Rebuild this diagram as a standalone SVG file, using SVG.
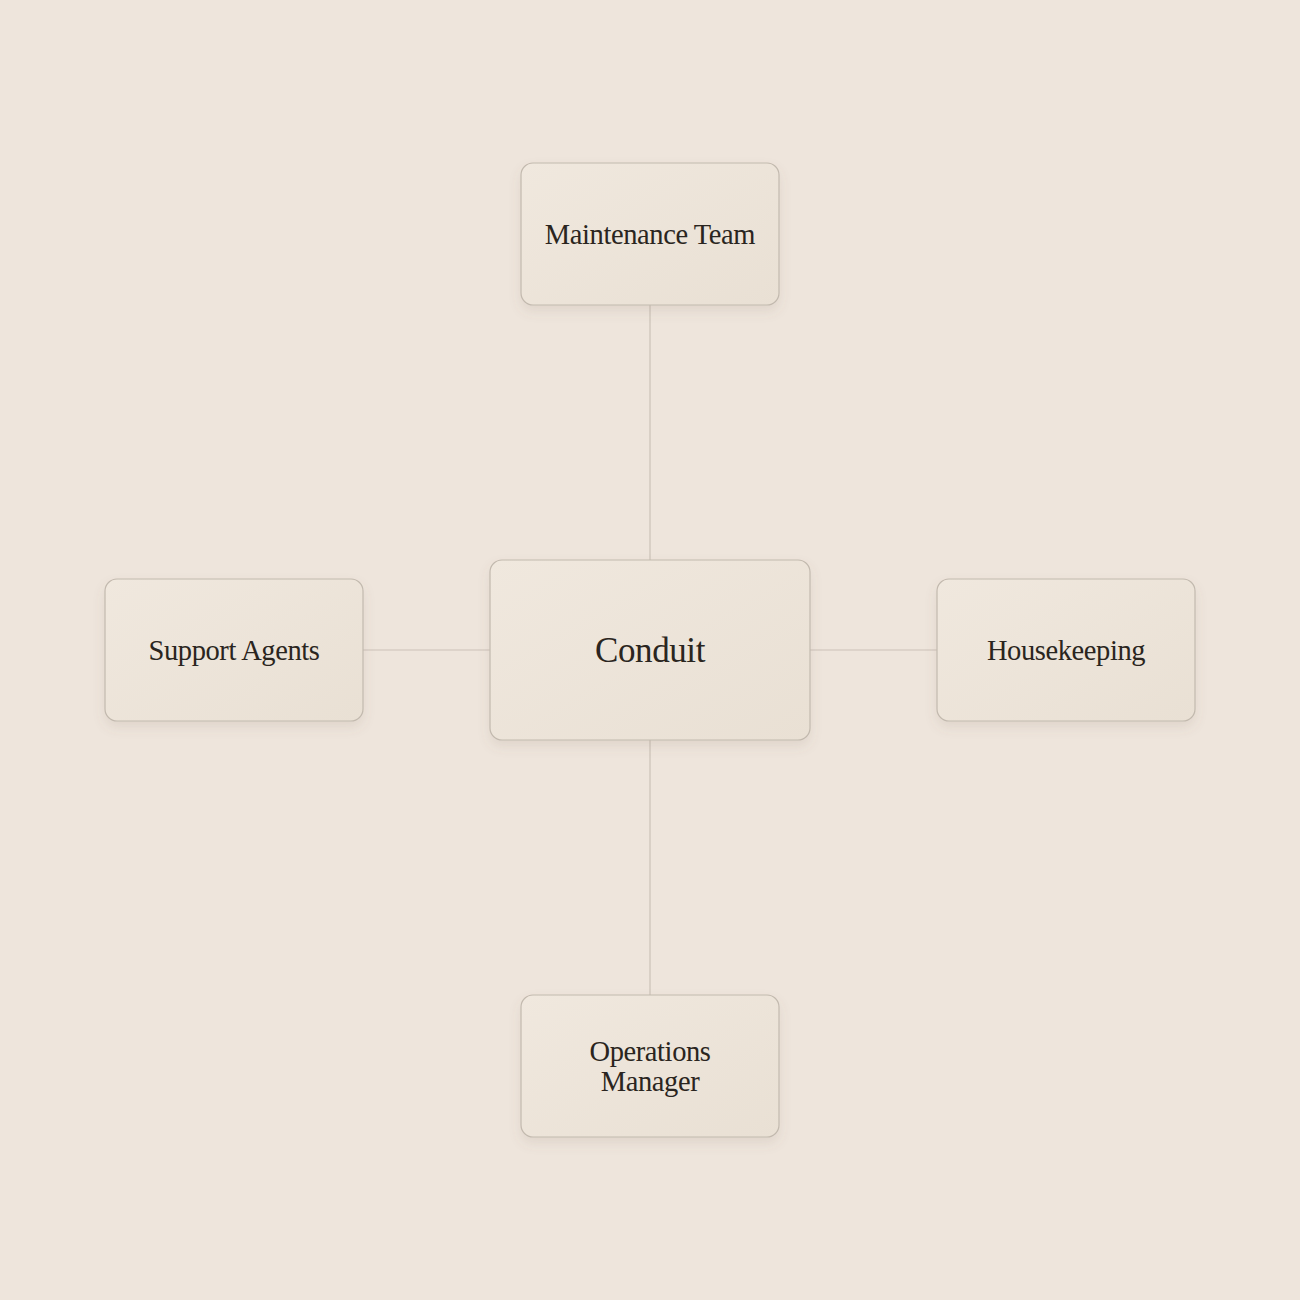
<svg xmlns="http://www.w3.org/2000/svg" width="1300" height="1300" viewBox="0 0 1300 1300">
  <defs>
    <linearGradient id="nodeFill" x1="0" y1="0" x2="1" y2="1">
      <stop offset="0" stop-color="#f0e8de"/>
      <stop offset="1" stop-color="#e9e0d4"/>
    </linearGradient>
    <filter id="shadow" x="-20%" y="-20%" width="140%" height="150%">
      <feDropShadow dx="0" dy="6" stdDeviation="6" flood-color="#7a6a55" flood-opacity="0.12"/>
    </filter>
  </defs>
  <style>
    .node rect { fill: url(#nodeFill); stroke: #c2b9ae; stroke-width: 1.2; filter: url(#shadow); }
    .label { font-family: "Liberation Serif", "DejaVu Serif", serif; fill: #2a2520; text-anchor: middle; dominant-baseline: central; }
    .small { font-size: 28.5px; letter-spacing: -0.4px; }
    .big { font-size: 35px; letter-spacing: -0.4px; }
    .edge { stroke: #cbc2b7; stroke-width: 1.2; fill: none; }
  </style>
  <rect x="0" y="0" width="1300" height="1300" fill="#eee5dc"/>
  <g id="connectors">
    <line class="edge" x1="650" y1="305" x2="650" y2="560"/>
    <line class="edge" x1="650" y1="740" x2="650" y2="995"/>
    <line class="edge" x1="363" y1="650" x2="490" y2="650"/>
    <line class="edge" x1="810" y1="650" x2="937" y2="650"/>
  </g>
  <g id="node-maintenance" class="node">
    <rect x="521" y="163" width="258" height="142" rx="12"/>
    <text class="label small" x="650" y="234">Maintenance Team</text>
  </g>
  <g id="node-support" class="node">
    <rect x="105" y="579" width="258" height="142" rx="12"/>
    <text class="label small" x="234" y="650">Support Agents</text>
  </g>
  <g id="node-housekeeping" class="node">
    <rect x="937" y="579" width="258" height="142" rx="12"/>
    <text class="label small" x="1066" y="650">Housekeeping</text>
  </g>
  <g id="node-operations" class="node">
    <rect x="521" y="995" width="258" height="142" rx="12"/>
    <text class="label small" x="650" y="1051">Operations</text>
    <text class="label small" x="650" y="1081">Manager</text>
  </g>
  <g id="node-conduit" class="node">
    <rect x="490" y="560" width="320" height="180" rx="12"/>
    <text class="label big" x="650" y="650">Conduit</text>
  </g>
</svg>
